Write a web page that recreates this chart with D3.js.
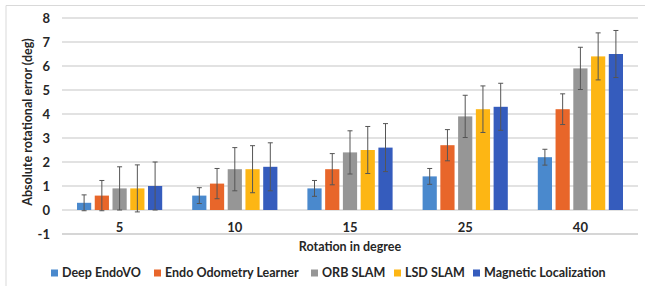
<!DOCTYPE html>
<html><head><meta charset="utf-8">
<script src="https://cdn.jsdelivr.net/npm/d3@7"></script>
<style>body{margin:0;background:#fff}svg{display:block}text{font-family:Lato,"Liberation Sans",sans-serif;font-weight:bold;fill:#262626}</style>
</head><body>
<script>
const categories = ["5","10","15","25","40"];
const series = ["Deep EndoVO","Endo Odometry Learner","ORB SLAM","LSD SLAM","Magnetic Localization"];
const colors = ["#4A89CD","#E8662A","#969696","#FDB614","#355CBD"];
const deepEndoVO = [0.3,0.6,0.9,1.4,2.2];
const endoOdometry = [0.6,1.1,1.7,2.7,4.2];
const orbSlam = [0.9,1.7,2.4,3.9,5.9];
const lsdSlam = [0.9,1.7,2.5,4.2,6.4];
const magnetic = [1.0,1.8,2.6,4.3,6.5];
const deepErr = [0.33,0.33,0.33,0.33,0.33];
const endoErr = [0.63,0.63,0.65,0.65,0.64];
const orbErr = [0.9,0.9,0.9,0.88,0.88];
const lsdErr = [0.98,0.98,0.98,0.97,0.98];
const magErr = [1.0,1.0,1.0,0.98,0.98];
const yTicks = [-1,0,1,2,3,4,5,6,7,8];

const values = [deepEndoVO,endoOdometry,orbSlam,lsdSlam,magnetic];
const errors = [deepErr,endoErr,orbErr,lsdErr,magErr];

const W=645,H=286;
const svg=d3.select("body").append("svg").attr("width",W).attr("height",H);
svg.append("path").attr("d","M6,"+H+"V5.5H"+W).attr("fill","none").attr("stroke","#d9d9d9").attr("stroke-width",1);

const x=d3.scaleBand().domain(categories).range([62,638]);
const x1=d3.scaleBand().domain(series).range([-42.6,42.6]).paddingInner(0.2);
const y=d3.scaleLinear().domain([-1,8]).range([234,18]);

// gridlines
svg.append("g").selectAll("line").data(yTicks).join("line")
  .attr("x1",62).attr("x2",638).attr("y1",d=>y(d)).attr("y2",d=>y(d))
  .attr("stroke",d=>d===-1?"#c8c8c8":"#d9d9d9").attr("stroke-width",1.5);

// y tick labels
svg.append("g").selectAll("text").data(yTicks).join("text")
  .attr("x",50).attr("y",d=>y(d)).attr("dy","0.35em").attr("text-anchor","end")
  .style("font-size","13px").text(d=>d);

// x tick labels
svg.append("g").selectAll("text").data(categories).join("text")
  .attr("x",d=>x(d)+x.bandwidth()/2).attr("y",227).attr("dy","0.35em").attr("text-anchor","middle")
  .style("font-size","13px").text(d=>d);

// bars
const flat=[];
series.forEach((s,si)=>categories.forEach((c,ci)=>flat.push({s,si,c,v:values[si][ci],e:errors[si][ci]})));
const bx=d=>x(d.c)+x.bandwidth()/2+x1(d.s);
svg.append("g").selectAll("rect").data(flat).join("rect")
  .attr("x",bx).attr("width",x1.bandwidth())
  .attr("y",d=>y(d.v)).attr("height",d=>y(0)-y(d.v))
  .attr("fill",d=>colors[d.si]);

// error bars
const eg=svg.append("g").attr("stroke","#555").attr("stroke-width",1);
flat.forEach(d=>{
  const cx=bx(d)+x1.bandwidth()/2;
  eg.append("line").attr("x1",cx).attr("x2",cx).attr("y1",y(d.v+d.e)).attr("y2",y(d.v-d.e));
  eg.append("line").attr("x1",cx-2.5).attr("x2",cx+2.5).attr("y1",y(d.v+d.e)).attr("y2",y(d.v+d.e));
  eg.append("line").attr("x1",cx-2.5).attr("x2",cx+2.5).attr("y1",y(d.v-d.e)).attr("y2",y(d.v-d.e));
});

// axis titles
svg.append("text").attr("x",350).attr("y",247).attr("dy","0.35em").attr("text-anchor","middle")
  .style("font-size","12.5px").text("Rotation in degree");
svg.append("text").attr("transform","translate(28,122) rotate(-90)").attr("dy","0.35em").attr("text-anchor","middle")
  .style("font-size","12.5px").text("Absolute rotational error (deg)");

// legend
const legX=[51,154,311,394,473];
const lg=svg.append("g").selectAll("g").data(series).join("g")
  .attr("transform",(d,i)=>"translate("+legX[i]+",273)");
lg.append("rect").attr("x",0).attr("y",-3.5).attr("width",7).attr("height",7).attr("fill",(d,i)=>colors[i]);
lg.append("text").attr("x",11).attr("dy","0.35em").style("font-size","12.5px").text(d=>d);
</script>
</body></html>
